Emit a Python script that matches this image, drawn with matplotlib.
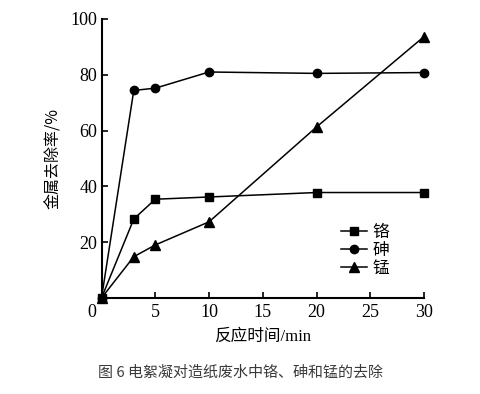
import matplotlib
matplotlib.use("Agg")
import matplotlib.pyplot as plt
import matplotlib.transforms as mtransforms

time = [0, 3, 5, 10, 20, 30]
cr = [0, 28.3, 35.4, 36.2, 37.8, 37.8]
as_ = [0, 74.4, 75.2, 81.0, 80.5, 80.8]
mn = [0, 14.8, 19.0, 27.3, 61.3, 93.7]
labels = ["铬", "砷", "锰"]
xticks = [0, 5, 10, 15, 20, 25, 30]
yticks = [20, 40, 60, 80, 100]

cjk = ["Noto Sans CJK SC", "DejaVu Sans"]
serif = "Liberation Serif"

fig = plt.figure(figsize=(4.8, 3.94), dpi=100)
ax = fig.add_axes([0.2115, 0.2437, 0.672, 0.7081])

ms = 6
ax.plot(time, cr, color="black", lw=1.1, marker="s", ms=ms, label=labels[0])
ax.plot(time, as_, color="black", lw=1.1, marker="o", ms=ms, label=labels[1])
ax.plot(time, mn, color="black", lw=1.1, marker="^", ms=ms + 0.5, label=labels[2])

ax.set_xlim(0, 30)
ax.set_ylim(0, 100)
ax.set_xticks(xticks)
ax.set_yticks(yticks)
ax.set_xticklabels(["" if v == 0 else str(v) for v in xticks], fontfamily=serif, fontsize=13)
ax.set_yticklabels([str(v) for v in yticks], fontfamily=serif, fontsize=13)
ax.tick_params(direction="in", length=4, width=1.2, pad=3)
ax.tick_params(axis="x", pad=4)
ax.spines["top"].set_visible(False)
ax.spines["right"].set_visible(False)
ax.spines["left"].set_linewidth(1.5)
ax.spines["bottom"].set_linewidth(1.5)
for l in ax.lines:
    l.set_clip_on(False)

# the lone "0" sits left of the origin, on the x tick label baseline
zero_tr = ax.get_xaxis_transform() + mtransforms.ScaledTranslation(-3.5 / 72, -4.5 / 72, fig.dpi_scale_trans)
ax.text(0, 0, "0", transform=zero_tr, ha="right", va="top", fontfamily=serif, fontsize=13)

ax.set_xlabel("反应时间/min", fontfamily=[serif, "Noto Sans CJK SC"], fontsize=12, labelpad=6)
ax.set_ylabel("金属去除率/%", fontfamily=["Noto Sans CJK SC", serif], fontsize=11.5, labelpad=6)

leg = ax.legend(loc="lower right", bbox_to_anchor=(0.917, 0.046), frameon=False,
                prop={"family": "Noto Sans CJK SC", "size": 12},
                handlelength=1.6, handletextpad=0.3, labelspacing=0.05, borderpad=0)

fig.text(0.5, 0.055, "图 6 电絮凝对造纸废水中铬、砷和锰的去除", ha="center", va="center",
         fontfamily=cjk, fontsize=10.8, color="#3a3a3a")

fig.savefig("out.png", dpi=100)
